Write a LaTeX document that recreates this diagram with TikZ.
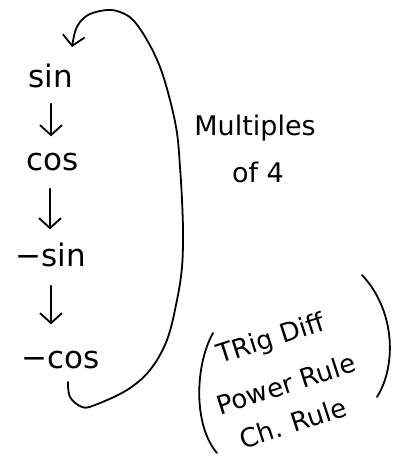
\documentclass[tikz,border=0pt]{standalone}
\usepackage{fontspec}
\setmainfont{DejaVu Sans}
\usetikzlibrary{arrows.meta}
\begin{document}
\begin{tikzpicture}[x=1pt,y=-1pt,
  ink/.style={line width=1.8pt,line cap=round,line join=round},
  arr/.style={ink,-{Straight Barb[length=10pt,width=22pt,line width=1.8pt]}},
  fn/.style={font=\fontsize{31}{33}\selectfont,inner sep=0pt,text height=23pt,text depth=8pt},
  note/.style={font=\fontsize{27}{29}\selectfont,inner sep=0pt},
  tilt/.style={font=\fontsize{26}{28}\selectfont,inner sep=0pt,rotate=18}]
\useasboundingbox (0,0) rectangle (394,456);
\node[fn] (s) at (51,80) {sin};
\node[fn] (c) at (53,163) {cos};
\node[fn] (ms) at (51,259) {−sin};
\node[fn] (mc) at (61,361) {−cos};
\draw[arr] ([yshift=-8pt]s.south) -- ([yshift=11pt]s.south |- c.north);
\draw[arr] ([xshift=-3pt,yshift=-10pt]c.south) -- ([xshift=-3pt,yshift=14pt]c.south |- ms.north);
\draw[arr] ([yshift=-11pt]ms.south) -- ([yshift=21pt]ms.south |- mc.north);
\coordinate (c0) at (68,382);
\draw[arr] plot[smooth,tension=0.6] coordinates {(c0) (70,397) (82,407) (95,405) (127,390) (150,370) (167,340) (177,300) (182,267) (183,233) (182,200) (180,167) (177,133) (170,100) (160,67) (147,40) (133,20) (120,12) (107,10) (90,14) (80,22) (75,32) (72,47)};
\node[note] (m1) at (255,128) {Multiples};
\node[note] (m2) at (258,172) {of 4};
\node[tilt] (t1) at (271,340) {TRig Diff};
\node[tilt] (t2) at (286,384) {Power Rule};
\node[tilt] (t3) at (293,423) {Ch. Rule};
\draw[ink] (213,333) .. controls (195,365) and (193,425) .. (217,453);
\draw[ink] (362,275) .. controls (395,310) and (397,365) .. (377,397);
\end{tikzpicture}
\end{document}
